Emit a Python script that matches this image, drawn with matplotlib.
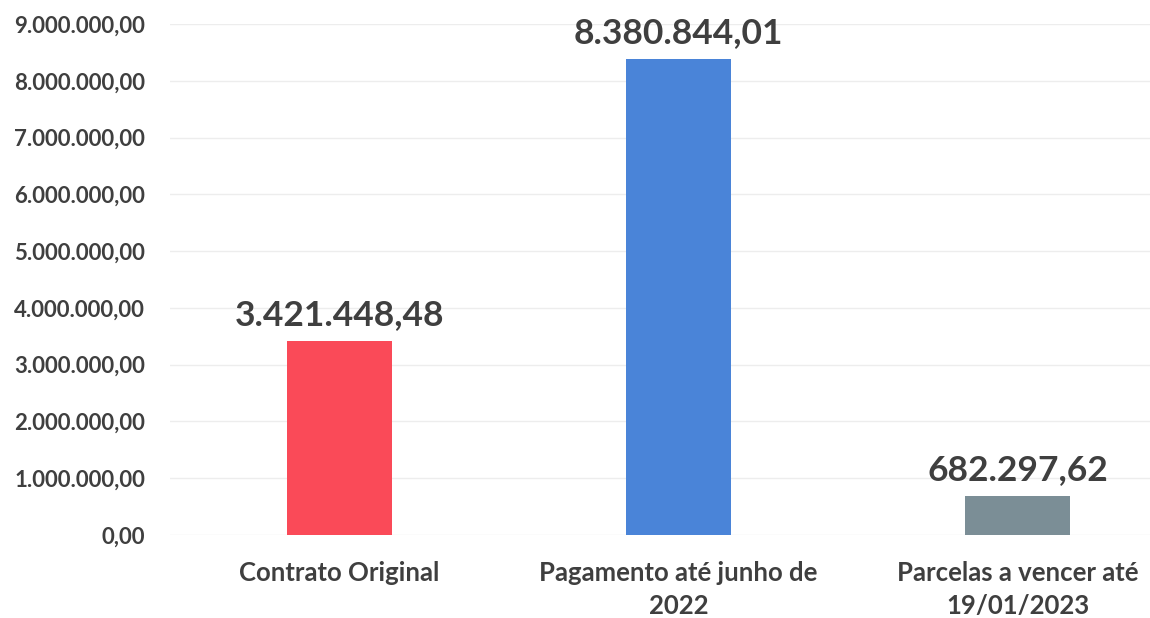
import matplotlib
matplotlib.use("Agg")
from matplotlib import pyplot as plt

categorias = ["Contrato Original", "Pagamento até junho de\n2022", "Parcelas a vencer até\n19/01/2023"]
valores = [3421448.48, 8380844.01, 682297.62]
rotulos = ["3.421.448,48", "8.380.844,01", "682.297,62"]
cores = ["#FA4A58", "#4A84D8", "#7B8E96"]
ticks_y = [0, 1000000, 2000000, 3000000, 4000000, 5000000, 6000000, 7000000, 8000000, 9000000]
ticks_y_txt = ["0,00", "1.000.000,00", "2.000.000,00", "3.000.000,00", "4.000.000,00",
               "5.000.000,00", "6.000.000,00", "7.000.000,00", "8.000.000,00", "9.000.000,00"]

plt.rcParams['font.family'] = ['Lato', 'DejaVu Sans']
texto = "#3F3F3F"

fig = plt.figure(figsize=(11.5, 6.18), dpi=100)
ax = fig.add_axes([0.1478, 0.1343, 0.852, 0.8269])

x = range(len(categorias))
ax.bar(x, valores, width=0.31, color=cores, zorder=2)

for i, v in enumerate(valores):
    ax.annotate(rotulos[i], (i, v), xytext=(0, 7), textcoords="offset points",
                ha="center", va="bottom", fontsize=25.5, fontweight="bold", color=texto)

ax.set_ylim(0, 9000000)
ax.set_xlim(-0.5, 2.39)
ax.set_yticks(ticks_y)
ax.set_yticklabels(ticks_y_txt, fontsize=16, fontweight="bold", color=texto)
ax.set_xticks(list(x))
ax.set_xticklabels(categorias, fontsize=18.5, fontweight="bold", color=texto, linespacing=1.45)
ax.tick_params(axis="both", length=0)
ax.tick_params(axis="y", pad=18)
ax.tick_params(axis="x", pad=19)
for lbl in ax.get_xticklabels():
    lbl.set_verticalalignment("top")

ax.grid(axis="y", color="#EDEDED", linewidth=1, zorder=0)
for s in ax.spines.values():
    s.set_visible(False)

fig.savefig("out.png", dpi=100, facecolor="white")
